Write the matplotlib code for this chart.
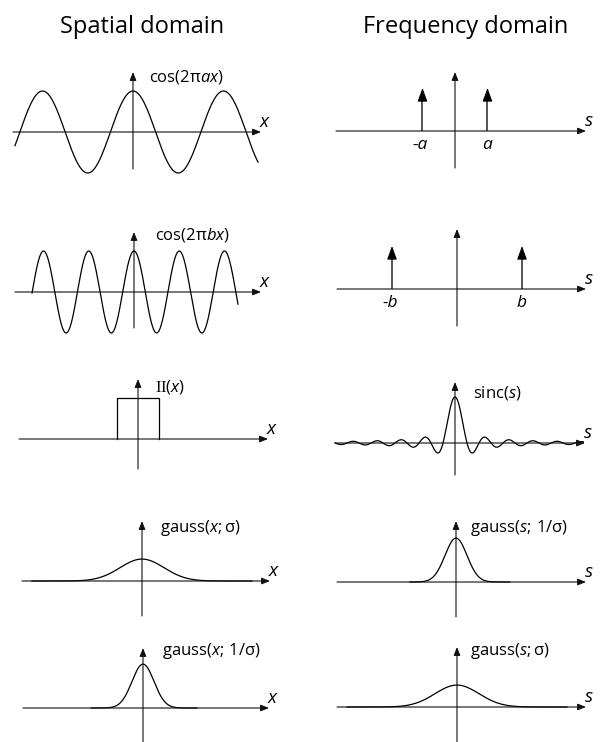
import numpy as np
import matplotlib
matplotlib.use("Agg")
import matplotlib.pyplot as plt

W, H = 604, 742
DPI = 100

plt.rcParams.update({
    "font.family": ["Open Sans", "DejaVu Sans"],
    "mathtext.fontset": "custom",
    "mathtext.rm": "Open Sans",
    "mathtext.it": "Open Sans:italic",
    "mathtext.sf": "Liberation Serif",
})

# ---------------- data ----------------
column_titles = ["Spatial domain", "Frequency domain"]
freq_a = 1.0            # cos(2*pi*a*x)
freq_b = 2.0            # cos(2*pi*b*x)
box_width = 1.0         # II(x)
box_height = 1.0
spike_height = 1.0
sigma_wide = 1.0
sigma_narrow = 0.5

spatial_labels = [
    r"$\mathrm{cos(2π}\mathit{ax}\mathrm{)}$",
    r"$\mathrm{cos(2π}\mathit{bx}\mathrm{)}$",
    r"$\mathsf{II}\mathrm{(}\mathit{x}\mathrm{)}$",
    r"$\mathrm{gauss(}\mathit{x}\mathrm{;σ)}$",
    r"$\mathrm{gauss(}\mathit{x}\mathrm{;\,1/σ)}$",
]
frequency_labels = [
    None,
    None,
    r"$\mathrm{sinc(}\mathit{s}\mathrm{)}$",
    r"$\mathrm{gauss(}\mathit{s}\mathrm{;\,1/σ)}$",
    r"$\mathrm{gauss(}\mathit{s}\mathrm{;σ)}$",
]
spike_labels_a = ["-a", "a"]
spike_labels_b = ["-b", "b"]

# ---------------- helpers ----------------
fig = plt.figure(figsize=(W / DPI, H / DPI), dpi=DPI)

AX_ARROW = dict(arrowstyle="-|>,head_length=0.55,head_width=0.22",
                mutation_scale=9, lw=0.8, color="#111111",
                shrinkA=0, shrinkB=0)


def panel(ox, oy, xs, ys, sx, sy, name):
    """Axes whose data origin sits at pixel (ox, oy); sx, sy = pixels per unit."""
    pad = 30
    left, right = xs[0] - pad, xs[1] + pad
    top, bottom = ys[1] - pad, ys[0] + pad
    ax = fig.add_axes([left / W, 1 - bottom / H, (right - left) / W, (bottom - top) / H])
    ax.set_xlim((left - ox) / sx, (right - ox) / sx)
    ax.set_ylim((oy - bottom) / sy, (oy - top) / sy)
    ax.set_axis_off()
    x0, x1 = (xs[0] - ox) / sx, (xs[1] - ox) / sx
    y0, y1 = (oy - ys[0]) / sy, (oy - ys[1]) / sy
    ax.annotate("", xy=(x1, 0), xytext=(x0, 0), arrowprops=AX_ARROW)
    ax.annotate("", xy=(0, y1), xytext=(0, y0), arrowprops=AX_ARROW)
    ax.annotate(name, xy=(x1, 0), xytext=(3, 10), textcoords="offset pixels",
                ha="center", va="center", fontsize=13.5, fontstyle="italic")
    return ax


def fig_text(px, py, s, **kw):
    fig.text(px / W, 1 - py / H, s, **kw)


def gauss(x, s):
    return np.exp(-x ** 2 / (2 * s ** 2)) / (s * np.sqrt(2 * np.pi))


CURVE = dict(color="black", lw=0.9)
SPIKE_HEAD = dict(arrowstyle="-|>,head_length=0.55,head_width=0.2",
                  mutation_scale=15, lw=0.8, color="black",
                  shrinkA=0, shrinkB=0)


def spikes(ax, pos, labels):
    for p, lab in zip(pos, labels):
        ax.plot([p, p], [0, spike_height * 0.8], color="#555555", lw=1.4,
                solid_capstyle="butt")
        ax.annotate("", xy=(p, spike_height), xytext=(p, spike_height * 0.7),
                    arrowprops=SPIKE_HEAD)
        ax.annotate(lab, xy=(p, 0), xytext=(-2 if p < 0 else 0, -14),
                    textcoords="offset pixels", ha="center", va="center",
                    fontsize=12.5, fontstyle="italic")


# ---------------- titles ----------------
fig_text(142, 33, column_titles[0], ha="center", va="baseline", fontsize=17)
fig_text(466, 33, column_titles[1], ha="center", va="baseline", fontsize=17)

# ---------------- spatial column ----------------
ax = panel(133, 132, (13, 261), (169, 72), 90.5, 41, "x")
x = np.linspace(-1.304, 1.381, 600)
ax.plot(x, np.cos(2 * np.pi * freq_a * x), **CURVE)
fig_text(149, 77, spatial_labels[0], ha="left", va="center", fontsize=12)

ax = panel(134, 292, (15, 261), (328, 232), 90.5, 41, "x")
x = np.linspace(-1.127, 1.149, 600)
ax.plot(x, np.cos(2 * np.pi * freq_b * x), **CURVE)
fig_text(155, 235, spatial_labels[1], ha="left", va="center", fontsize=12)

ax = panel(138, 439, (19, 268), (469, 379), 42, 41, "x")
hw = box_width / 2
ax.plot([-hw, -hw, hw, hw], [0, box_height, box_height, 0], **CURVE)
fig_text(155, 387, spatial_labels[2], ha="left", va="center", fontsize=12)

ax = panel(142, 581, (22, 270), (616, 521), 22, 55, "x")
x = np.linspace(-5, 5, 600)
ax.plot(x, gauss(x, sigma_wide), **CURVE)
fig_text(160, 528, spatial_labels[3], ha="left", va="center", fontsize=12)

ax = panel(143, 708, (23, 269), (745, 648), 22, 55, "x")
x = np.linspace(-2.35, 2.45, 600)
ax.plot(x, gauss(x, sigma_narrow), **CURVE)
fig_text(162, 651, spatial_labels[4], ha="left", va="center", fontsize=12)

# ---------------- frequency column ----------------
ax = panel(455, 131, (336, 586), (168, 72), 32.5, 43, "s")
spikes(ax, [-freq_a, freq_a], spike_labels_a)

ax = panel(457, 289, (337, 586), (326, 229), 32.5, 43, "s")
spikes(ax, [-freq_b, freq_b], spike_labels_b)

ax = panel(455, 443, (335, 585), (475, 382), 12, 46, "s")
s = np.linspace(-10, 10.7, 1200)
ax.plot(s, np.sinc(s), **CURVE)
fig_text(473, 393, frequency_labels[2], ha="left", va="center", fontsize=12)

ax = panel(456, 582, (337, 586), (617, 521), 22, 55, "s")
s = np.linspace(-2.1, 2.45, 600)
ax.plot(s, gauss(s, sigma_narrow), **CURVE)
fig_text(470, 528, frequency_labels[3], ha="left", va="center", fontsize=12)

ax = panel(457, 707, (337, 586), (745, 647), 22, 55, "s")
s = np.linspace(-5, 5, 600)
ax.plot(s, gauss(s, sigma_wide), **CURVE)
fig_text(470, 651, frequency_labels[4], ha="left", va="center", fontsize=12)

fig.savefig("out.png", dpi=DPI)
